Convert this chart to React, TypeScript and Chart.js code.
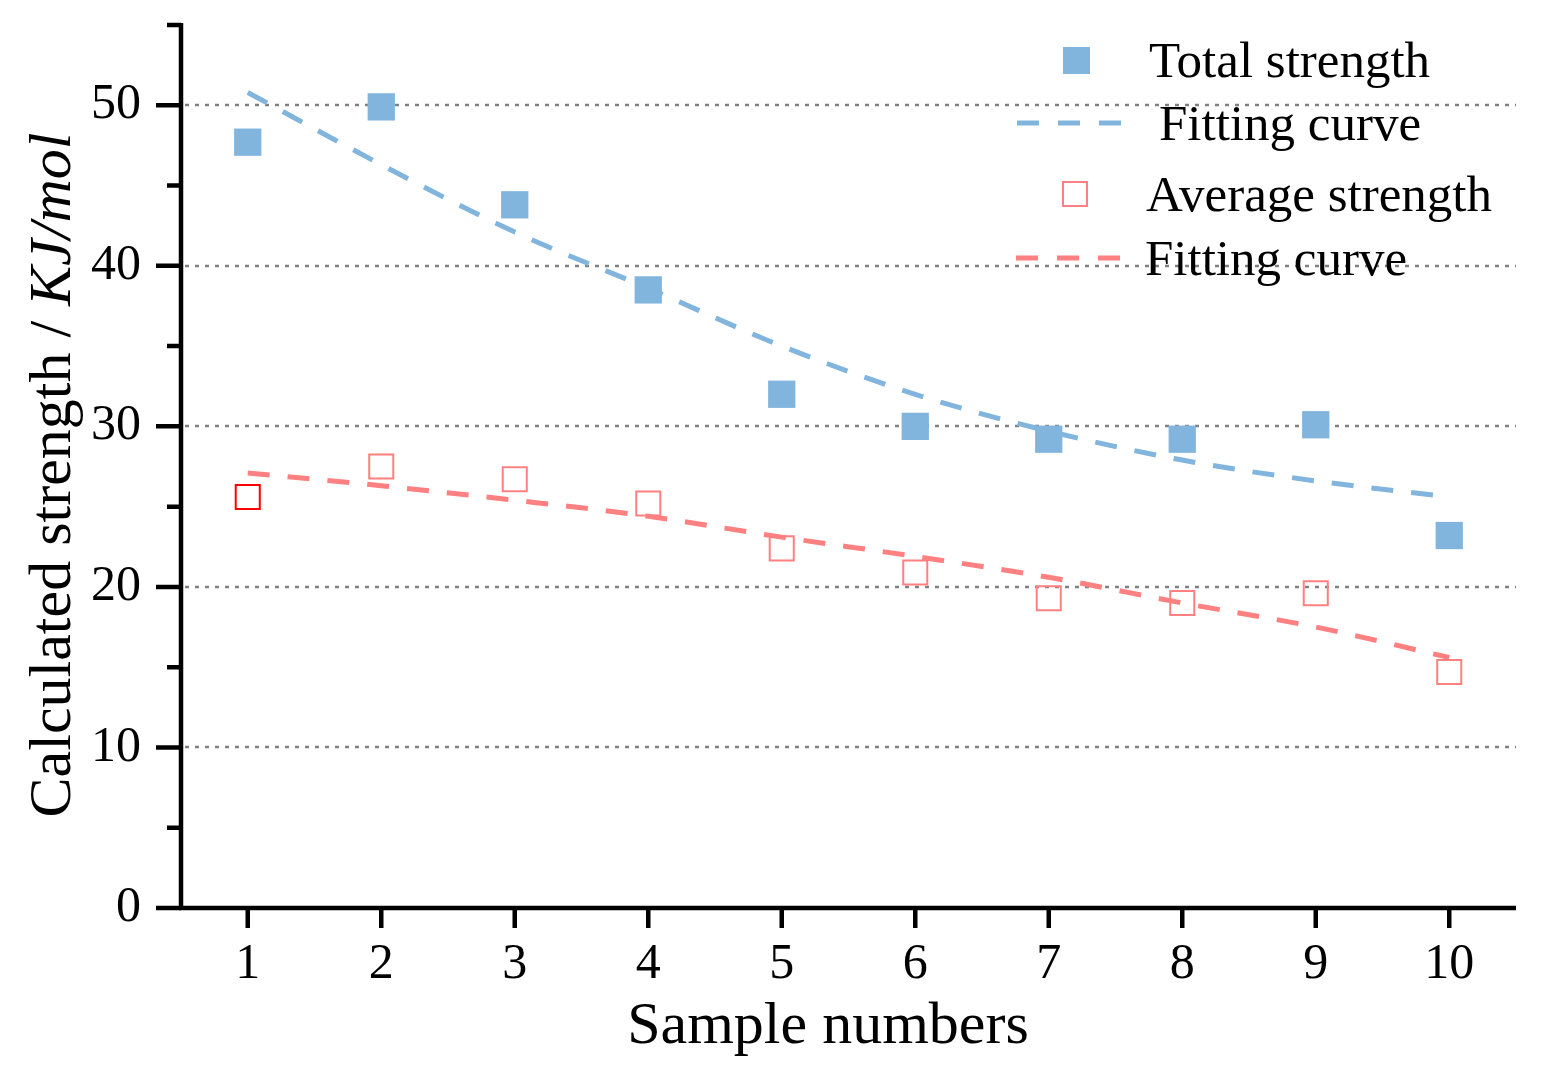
import React, { useEffect, useRef } from "react";
import { Chart, registerables } from "chart.js";

Chart.register(...registerables);

// ---------- data ----------
const SAMPLES = [1, 2, 3, 4, 5, 6, 7, 8, 9, 10];
const TOTAL_STRENGTH = [47.7, 49.9, 43.8, 38.5, 32.0, 30.0, 29.2, 29.2, 30.1, 23.2];
const TOTAL_FIT = [50.8, 46.3, 42.1, 38.6, 35.0, 32.0, 29.7, 27.9, 26.6, 25.6];
const AVERAGE_STRENGTH = [25.6, 27.5, 26.7, 25.2, 22.4, 20.9, 19.3, 19.0, 19.6, 14.7];
const AVERAGE_FIT = [27.1, 26.3, 25.4, 24.4, 23.1, 21.9, 20.6, 19.0, 17.5, 15.6];
const X_TICKS = [1, 2, 3, 4, 5, 6, 7, 8, 9, 10];
const Y_TICKS = [0, 10, 20, 30, 40, 50];
const Y_MINOR_TICKS = [5, 15, 25, 35, 45, 55];
const GRID_VALUES = [10, 20, 30, 40, 50];
const LEGEND_LABELS = ["Total strength", "Fitting curve", "Average strength", "Fitting curve"];
const X_TITLE = "Sample numbers";
const Y_TITLE = "Calculated strength / ";
const Y_TITLE_UNIT = "KJ/mol";

// ---------- styles ----------
const SERIF = '"Liberation Serif", "Times New Roman", Times, serif';
const BLUE = "#82B5DE";
const SALMON = "#FF8080";
const FIRST_RED = "#FF0000";
const W = 1556;
const H = 1076;

const decorPlugin = {
  id: "decor",
  beforeDatasetsDraw(chart: any) {
    const { ctx, chartArea } = chart;
    const y = chart.scales.y;
    ctx.save();
    ctx.strokeStyle = "#808080";
    ctx.lineWidth = 2.5;
    ctx.setLineDash([4, 6]);
    for (const v of GRID_VALUES) {
      const py = Math.round(y.getPixelForValue(v));
      ctx.beginPath();
      ctx.moveTo(chartArea.left + 4, py);
      ctx.lineTo(chartArea.right, py);
      ctx.stroke();
    }
    ctx.restore();
  },
  afterDatasetsDraw(chart: any) {
    const { ctx, chartArea } = chart;
    const x = chart.scales.x;
    const y = chart.scales.y;
    const { left, right, bottom } = chartArea;
    ctx.save();
    ctx.strokeStyle = "#000";
    ctx.lineWidth = 4.5;
    ctx.lineCap = "butt";
    ctx.setLineDash([]);
    // axes
    ctx.beginPath();
    ctx.moveTo(left, y.getPixelForValue(55) - 2);
    ctx.lineTo(left, bottom + 2);
    ctx.moveTo(left - 2, bottom);
    ctx.lineTo(right, bottom);
    ctx.stroke();
    // y ticks
    ctx.beginPath();
    for (const v of Y_TICKS) {
      const py = y.getPixelForValue(v);
      ctx.moveTo(left - 25, py);
      ctx.lineTo(left, py);
    }
    for (const v of Y_MINOR_TICKS) {
      const py = y.getPixelForValue(v);
      ctx.moveTo(left - 14, py);
      ctx.lineTo(left, py);
    }
    // x ticks
    for (const v of X_TICKS) {
      const px = x.getPixelForValue(v);
      ctx.moveTo(px, bottom);
      ctx.lineTo(px, bottom + 20);
    }
    ctx.stroke();

    // titles
    ctx.fillStyle = "#000";
    ctx.textBaseline = "alphabetic";
    ctx.font = `60px ${SERIF}`;
    ctx.textAlign = "center";
    ctx.fillText(X_TITLE, 828, 1043);

    ctx.save();
    ctx.font = `60px ${SERIF}`;
    const w1 = ctx.measureText(Y_TITLE).width;
    ctx.font = `italic 60px ${SERIF}`;
    const w2 = ctx.measureText(Y_TITLE_UNIT).width;
    const total = w1 + w2;
    ctx.translate(70, 475 + total / 2);
    ctx.rotate(-Math.PI / 2);
    ctx.textAlign = "left";
    ctx.font = `60px ${SERIF}`;
    ctx.fillText(Y_TITLE, 0, 0);
    ctx.font = `italic 60px ${SERIF}`;
    ctx.fillText(Y_TITLE_UNIT, w1, 0);
    ctx.restore();

    // legend
    ctx.font = `51px ${SERIF}`;
    ctx.textAlign = "left";
    // row 1: filled square
    ctx.fillStyle = BLUE;
    ctx.fillRect(1063, 47, 27, 27);
    ctx.fillStyle = "#000";
    ctx.fillText(LEGEND_LABELS[0], 1149, 77);
    // row 2: blue dashed
    ctx.strokeStyle = BLUE;
    ctx.lineWidth = 5;
    ctx.setLineDash([22, 19]);
    ctx.beginPath();
    ctx.moveTo(1017, 123);
    ctx.lineTo(1122, 123);
    ctx.stroke();
    ctx.fillText(LEGEND_LABELS[1], 1159, 140);
    // row 3: hollow square
    ctx.setLineDash([]);
    ctx.strokeStyle = SALMON;
    ctx.lineWidth = 2;
    ctx.strokeRect(1063, 182, 24, 24);
    ctx.fillText(LEGEND_LABELS[2], 1146, 211);
    // row 4: red dashed
    ctx.strokeStyle = SALMON;
    ctx.lineWidth = 5;
    ctx.setLineDash([22, 19]);
    ctx.beginPath();
    ctx.moveTo(1016, 258);
    ctx.lineTo(1120, 258);
    ctx.stroke();
    ctx.fillText(LEGEND_LABELS[3], 1145, 275);
    ctx.restore();
  },
};

export default function App() {
  const ref = useRef<HTMLCanvasElement | null>(null);

  useEffect(() => {
    if (!ref.current) return;
    const pts = (ys: number[]) => SAMPLES.map((s, i) => ({ x: s, y: ys[i] }));
    const avgBorder = AVERAGE_STRENGTH.map((_, i) => (i === 0 ? FIRST_RED : SALMON));
    const chart = new Chart(ref.current, {
      type: "scatter",
      data: {
        datasets: [
          {
            label: LEGEND_LABELS[0],
            data: pts(TOTAL_STRENGTH),
            pointStyle: "rect",
            pointRadius: 19.3,
            backgroundColor: BLUE,
            borderColor: BLUE,
            borderWidth: 0,
            showLine: false,
            order: 0,
            clip: false,
          },
          {
            label: LEGEND_LABELS[2],
            data: pts(AVERAGE_STRENGTH),
            pointStyle: "rect",
            pointRadius: 17,
            backgroundColor: "rgba(0,0,0,0)",
            borderColor: avgBorder,
            pointBorderColor: avgBorder,
            borderWidth: 2,
            showLine: false,
            order: 0,
            clip: false,
          },
          {
            label: LEGEND_LABELS[1],
            data: pts(TOTAL_FIT),
            showLine: true,
            pointRadius: 0,
            borderColor: BLUE,
            backgroundColor: BLUE,
            borderWidth: 5,
            borderDash: [22, 18],
            cubicInterpolationMode: "monotone",
            order: 1,
            clip: false,
          },
          {
            label: LEGEND_LABELS[3],
            data: pts(AVERAGE_FIT),
            showLine: true,
            pointRadius: 0,
            borderColor: SALMON,
            backgroundColor: SALMON,
            borderWidth: 5,
            borderDash: [22, 18],
            cubicInterpolationMode: "monotone",
            order: 1,
            clip: false,
          },
        ] as any,
      },
      options: {
        responsive: false,
        devicePixelRatio: 1,
        animation: false,
        layout: { padding: { top: 25, right: 40, left: 0, bottom: 0 } },
        plugins: {
          legend: { display: false },
          tooltip: { enabled: false },
          title: { display: false },
        },
        scales: {
          x: {
            type: "linear",
            min: 0.5,
            max: 10.5,
            afterBuildTicks: (s: any) => {
              s.ticks = X_TICKS.map((v) => ({ value: v }));
            },
            afterFit: (s: any) => {
              s.height = 168;
              s.paddingLeft = 0;
              s.paddingRight = 0;
            },
            grid: { display: false },
            border: { display: false },
            ticks: {
              autoSkip: false,
              maxRotation: 0,
              padding: 19,
              color: "#000",
              font: { family: SERIF, size: 50 },
              callback: (v: any) => String(v),
            },
          },
          y: {
            type: "linear",
            min: 0,
            max: 55,
            afterBuildTicks: (s: any) => {
              s.ticks = Y_TICKS.map((v) => ({ value: v }));
            },
            afterFit: (s: any) => {
              s.width = 181;
              s.paddingTop = 0;
              s.paddingBottom = 0;
            },
            grid: { display: false },
            border: { display: false },
            ticks: {
              padding: 32,
              color: "#000",
              font: { family: SERIF, size: 50 },
              callback: (v: any) => String(v),
            },
          },
        },
      } as any,
      plugins: [decorPlugin],
    });
    return () => chart.destroy();
  }, []);

  return (
    <div style={{ position: "fixed", left: 0, top: 0, width: W, height: H, background: "#fff" }}>
      <canvas ref={ref} width={W} height={H} style={{ display: "block", width: W, height: H }} />
    </div>
  );
}
